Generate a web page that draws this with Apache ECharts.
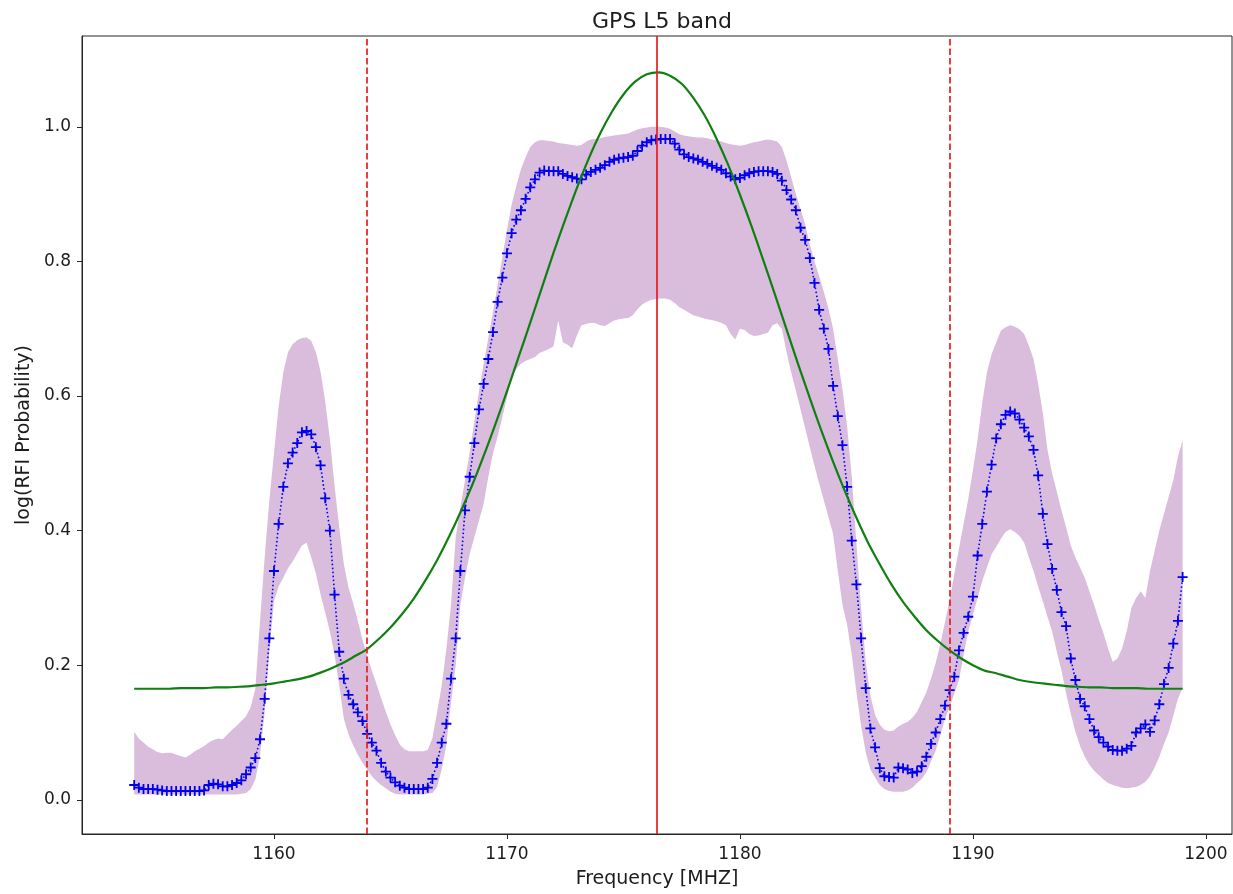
<!DOCTYPE html>
<html>
<head>
<meta charset="utf-8">
<title>GPS L5 band</title>
<script src="https://cdn.jsdelivr.net/npm/echarts@6/dist/echarts.min.js"></script>
<style>
  html, body { margin: 0; padding: 0; background: #ffffff; }
  #chart { width: 1233px; height: 894px; }
</style>
</head>
<body>
<div id="chart"></div>
<script>
// Sampling grid of the RFI probability curve (MHz)
const freqStart = 1154.0;
const freqStep = 0.2;

// Mean log(RFI probability) per frequency bin
const meanProb = [
  0.022, 0.018, 0.016, 0.016, 0.016, 0.015, 0.014, 0.013, 0.013, 0.013,
  0.013, 0.013, 0.013, 0.013, 0.013, 0.014, 0.022, 0.024, 0.023, 0.020,
  0.020, 0.022, 0.025, 0.029, 0.038, 0.048, 0.062, 0.090, 0.150, 0.240,
  0.340, 0.410, 0.465, 0.500, 0.516, 0.530, 0.546, 0.548, 0.543, 0.524,
  0.497, 0.448, 0.400, 0.305, 0.220, 0.180, 0.156, 0.142, 0.130, 0.117,
  0.098, 0.085, 0.073, 0.055, 0.042, 0.033, 0.026, 0.021, 0.018, 0.016,
  0.016, 0.016, 0.016, 0.018, 0.031, 0.055, 0.085, 0.113, 0.180, 0.240,
  0.340, 0.430, 0.480, 0.530, 0.580, 0.618, 0.655, 0.695, 0.740, 0.776,
  0.812, 0.842, 0.862, 0.876, 0.893, 0.910, 0.922, 0.932, 0.935, 0.934,
  0.934, 0.934, 0.930, 0.927, 0.925, 0.923, 0.922, 0.929, 0.933, 0.936,
  0.939, 0.943, 0.948, 0.951, 0.953, 0.954, 0.955, 0.957, 0.964, 0.972,
  0.977, 0.980, 0.981, 0.982, 0.982, 0.982, 0.975, 0.966, 0.959, 0.955,
  0.953, 0.951, 0.948, 0.945, 0.942, 0.939, 0.936, 0.931, 0.926, 0.922,
  0.924, 0.928, 0.931, 0.933, 0.934, 0.934, 0.934, 0.933, 0.930, 0.920,
  0.906, 0.892, 0.876, 0.850, 0.832, 0.805, 0.768, 0.728, 0.700, 0.670,
  0.615, 0.570, 0.527, 0.465, 0.385, 0.320, 0.240, 0.166, 0.106, 0.078,
  0.047, 0.035, 0.034, 0.033, 0.048, 0.047, 0.045, 0.040, 0.042, 0.050,
  0.064, 0.083, 0.100, 0.120, 0.140, 0.163, 0.183, 0.222, 0.248, 0.272,
  0.302, 0.363, 0.410, 0.458, 0.498, 0.537, 0.558, 0.572, 0.577, 0.574,
  0.565, 0.553, 0.540, 0.520, 0.482, 0.425, 0.380, 0.343, 0.312, 0.279,
  0.258, 0.210, 0.178, 0.150, 0.139, 0.120, 0.103, 0.093, 0.085, 0.079,
  0.074, 0.073, 0.073, 0.076, 0.080, 0.100, 0.106, 0.112, 0.101, 0.118,
  0.142, 0.172, 0.196, 0.232, 0.266, 0.331
];

// Upper edge of the spread band
const upperProb = [
  0.101, 0.091, 0.085, 0.079, 0.075, 0.071, 0.069, 0.070, 0.070, 0.067,
  0.065, 0.063, 0.067, 0.072, 0.076, 0.080, 0.085, 0.089, 0.091, 0.090,
  0.097, 0.104, 0.110, 0.117, 0.124, 0.138, 0.165, 0.265, 0.360, 0.445,
  0.515, 0.585, 0.635, 0.665, 0.677, 0.683, 0.686, 0.687, 0.682, 0.665,
  0.636, 0.592, 0.536, 0.467, 0.405, 0.350, 0.315, 0.292, 0.266, 0.238,
  0.213, 0.192, 0.172, 0.151, 0.131, 0.112, 0.096, 0.082, 0.075, 0.072,
  0.072, 0.072, 0.072, 0.074, 0.092, 0.130, 0.170, 0.225, 0.290, 0.390,
  0.435, 0.475, 0.516, 0.562, 0.607, 0.648, 0.686, 0.725, 0.765, 0.805,
  0.847, 0.884, 0.912, 0.937, 0.955, 0.970, 0.977, 0.980, 0.980, 0.979,
  0.978, 0.976, 0.975, 0.974, 0.973, 0.972, 0.973, 0.978, 0.981, 0.982,
  0.983, 0.985, 0.986, 0.987, 0.988, 0.989, 0.990, 0.993, 0.996, 0.998,
  0.999, 1.000, 1.000, 1.000, 0.999, 0.997, 0.993, 0.989, 0.987, 0.986,
  0.985, 0.984, 0.984, 0.983, 0.981, 0.980, 0.978, 0.976, 0.974, 0.973,
  0.972, 0.973, 0.975, 0.977, 0.978, 0.980, 0.981, 0.980, 0.978, 0.970,
  0.950, 0.925, 0.900, 0.878, 0.855, 0.825, 0.800, 0.778, 0.755, 0.730,
  0.700, 0.655, 0.610, 0.555, 0.480, 0.380, 0.285, 0.205, 0.155, 0.126,
  0.112, 0.104, 0.102, 0.103, 0.109, 0.113, 0.116, 0.122, 0.131, 0.145,
  0.160, 0.180, 0.203, 0.232, 0.264, 0.297, 0.335, 0.373, 0.410, 0.447,
  0.490, 0.535, 0.590, 0.635, 0.662, 0.680, 0.697, 0.702, 0.705, 0.703,
  0.699, 0.692, 0.675, 0.655, 0.618, 0.575, 0.520, 0.485, 0.458, 0.430,
  0.405, 0.378, 0.360, 0.345, 0.330, 0.310, 0.290, 0.268, 0.248, 0.225,
  0.205, 0.210, 0.225, 0.250, 0.285, 0.300, 0.310, 0.300, 0.340, 0.370,
  0.400, 0.425, 0.450, 0.475, 0.510, 0.534
];

// Lower edge of the spread band
const lowerProb = [
  0.008, 0.008, 0.008, 0.008, 0.008, 0.008, 0.008, 0.008, 0.008, 0.008,
  0.008, 0.008, 0.008, 0.008, 0.008, 0.008, 0.008, 0.008, 0.008, 0.008,
  0.008, 0.008, 0.008, 0.009, 0.010, 0.016, 0.030, 0.065, 0.130, 0.220,
  0.295, 0.317, 0.330, 0.344, 0.354, 0.366, 0.378, 0.382, 0.360, 0.336,
  0.305, 0.278, 0.250, 0.215, 0.170, 0.120, 0.097, 0.081, 0.067, 0.055,
  0.045, 0.035, 0.028, 0.022, 0.017, 0.012, 0.009, 0.008, 0.008, 0.008,
  0.008, 0.008, 0.008, 0.009, 0.010, 0.019, 0.045, 0.082, 0.145, 0.200,
  0.290, 0.330, 0.365, 0.390, 0.415, 0.440, 0.480, 0.515, 0.540, 0.568,
  0.598, 0.628, 0.640, 0.648, 0.652, 0.655, 0.658, 0.664, 0.667, 0.670,
  0.674, 0.712, 0.680, 0.676, 0.671, 0.690, 0.705, 0.707, 0.709, 0.708,
  0.705, 0.704, 0.708, 0.712, 0.714, 0.715, 0.716, 0.720, 0.729, 0.736,
  0.740, 0.743, 0.744, 0.745, 0.745, 0.743, 0.738, 0.732, 0.728, 0.724,
  0.720, 0.718, 0.716, 0.714, 0.713, 0.711, 0.709, 0.705, 0.692, 0.684,
  0.700, 0.698, 0.692, 0.689, 0.690, 0.692, 0.694, 0.705, 0.708, 0.700,
  0.665, 0.635, 0.608, 0.580, 0.552, 0.524, 0.496, 0.470, 0.445, 0.420,
  0.395, 0.340, 0.290, 0.260, 0.215, 0.160, 0.110, 0.070, 0.045, 0.033,
  0.022, 0.016, 0.013, 0.012, 0.012, 0.012, 0.014, 0.018, 0.025, 0.031,
  0.041, 0.057, 0.073, 0.096, 0.120, 0.137, 0.158, 0.178, 0.215, 0.250,
  0.275, 0.300, 0.325, 0.345, 0.365, 0.376, 0.388, 0.398, 0.402, 0.398,
  0.392, 0.382, 0.360, 0.340, 0.317, 0.295, 0.272, 0.250, 0.220, 0.192,
  0.158, 0.128, 0.101, 0.080, 0.064, 0.052, 0.043, 0.037, 0.030, 0.025,
  0.022, 0.020, 0.018, 0.017, 0.018, 0.019, 0.022, 0.027, 0.035, 0.048,
  0.064, 0.083, 0.100, 0.125, 0.150, 0.166
];

// Fitted profile, sampled every 0.5 MHz
const fitFreqStart = 1154.0;
const fitFreqStep = 0.5;
const fitProb = [
  0.165, 0.165, 0.165, 0.165, 0.166, 0.166, 0.166, 0.167, 0.167, 0.168,
  0.169, 0.171, 0.173, 0.176, 0.179, 0.183, 0.189, 0.196, 0.204, 0.214,
  0.224, 0.239, 0.256, 0.276, 0.299, 0.326, 0.356, 0.390, 0.427, 0.467,
  0.511, 0.558, 0.607, 0.658, 0.709, 0.761, 0.813, 0.862, 0.909, 0.952,
  0.990, 1.022, 1.048, 1.067, 1.078, 1.081, 1.076, 1.064, 1.043, 1.016,
  0.982, 0.943, 0.899, 0.852, 0.802, 0.751, 0.699, 0.647, 0.597, 0.548,
  0.502, 0.459, 0.419, 0.382, 0.350, 0.320, 0.294, 0.272, 0.252, 0.236,
  0.222, 0.210, 0.200, 0.192, 0.188, 0.183, 0.178, 0.175, 0.173, 0.171,
  0.169, 0.168, 0.167, 0.167, 0.166, 0.166, 0.166, 0.165, 0.165, 0.165,
  0.165
];

// Band markers (MHz)
const bandEdges = [1164.0, 1189.0];
const centerFreq = 1176.45;

// Axis ticks
const xTicks = [1160, 1170, 1180, 1190, 1200];
const yTicks = [0.0, 0.2, 0.4, 0.6, 0.8, 1.0];

const freqs = meanProb.map((_, i) => +(freqStart + i * freqStep).toFixed(2));
const fitFreqs = fitProb.map((_, i) => +(fitFreqStart + i * fitFreqStep).toFixed(2));

const meanData = freqs.map((f, i) => [f, meanProb[i]]);
const bandData = freqs.map((f, i) => [f, lowerProb[i], upperProb[i]]);
const fitData = fitFreqs.map((f, i) => [f, fitProb[i]]);

const FONT = 'DejaVu Sans';
const TEXT = '#1c1c1c';
const AXIS = '#262626';
const PLUS = 'path://M0,4.1H4.1V0H5.9V4.1H10V5.9H5.9V10H4.1V5.9H0Z';
const RED = 'rgba(232,28,28,0.85)';

const chart = echarts.init(document.getElementById('chart'), null, { renderer: 'canvas' });

chart.setOption({
  animation: false,
  backgroundColor: '#ffffff',
  title: {
    text: 'GPS L5 band',
    left: 657,
    top: 6,
    textAlign: 'center',
    textStyle: { fontFamily: FONT, fontSize: 22, fontWeight: 'normal', color: TEXT }
  },
  grid: {
    left: 82, top: 36, width: 1150, height: 800,
    show: true, borderColor: AXIS, borderWidth: 1, backgroundColor: 'transparent',
    containLabel: false
  },
  xAxis: {
    type: 'value',
    min: 1151.76,
    max: 1201.12,
    name: 'Frequency [MHZ]',
    nameLocation: 'middle',
    nameGap: 36,
    nameTextStyle: { fontFamily: FONT, fontSize: 19, color: TEXT },
    axisLine: { show: true, onZero: false, lineStyle: { color: AXIS, width: 1 } },
    axisTick: { show: true, customValues: xTicks, length: 5, lineStyle: { color: AXIS, width: 1 } },
    axisLabel: {
      customValues: xTicks, fontFamily: FONT, fontSize: 17, color: TEXT, margin: 12,
      formatter: v => String(Math.round(v))
    },
    splitLine: { show: false }
  },
  yAxis: {
    type: 'value',
    min: -0.0508,
    max: 1.1349,
    name: 'log(RFI Probability)',
    nameLocation: 'middle',
    nameRotate: 90,
    nameGap: 48,
    nameTextStyle: { fontFamily: FONT, fontSize: 19, color: TEXT },
    axisLine: { show: true, onZero: false, lineStyle: { color: AXIS, width: 1 } },
    axisTick: { show: true, customValues: yTicks, length: 5, lineStyle: { color: AXIS, width: 1 } },
    axisLabel: {
      customValues: yTicks, fontFamily: FONT, fontSize: 17, color: TEXT, margin: 11,
      formatter: v => Number(v).toFixed(1)
    },
    splitLine: { show: false }
  },
  series: [
    {
      // spread band between lower and upper edges
      type: 'custom',
      z: 1,
      silent: true,
      encode: { x: 0, y: [1, 2] },
      data: bandData,
      renderItem(params, api) {
        if (params.dataIndex !== 0) return null;
        const pts = [];
        for (let i = 0; i < bandData.length; i++) pts.push(api.coord([bandData[i][0], bandData[i][1]]));
        for (let i = bandData.length - 1; i >= 0; i--) pts.push(api.coord([bandData[i][0], bandData[i][2]]));
        return {
          type: 'polygon',
          shape: { points: pts },
          style: { fill: '#dabddd', stroke: null }
        };
      }
    },
    {
      // mean curve with plus markers
      type: 'line',
      z: 3,
      data: meanData,
      symbol: PLUS,
      symbolSize: 10,
      showSymbol: true,
      showAllSymbol: true,
      silent: true,
      itemStyle: { color: '#0000ee' },
      lineStyle: { color: '#0000ff', width: 1.6, type: [1.6, 2.4], cap: 'butt' },
      emphasis: { disabled: true }
    },
    {
      // fitted profile
      type: 'line',
      z: 4,
      data: fitData,
      showSymbol: false,
      smooth: 0.3,
      silent: true,
      lineStyle: { color: '#0f800f', width: 2.2 },
      emphasis: { disabled: true }
    },
    {
      // band edges and centre frequency
      type: 'line',
      z: 5,
      data: [],
      silent: true,
      markLine: {
        silent: true,
        symbol: ['none', 'none'],
        label: { show: false },
        animation: false,
        data: [
          { xAxis: bandEdges[0], lineStyle: { color: RED, width: 2, type: [6.5, 3] } },
          { xAxis: centerFreq, lineStyle: { color: RED, width: 2, type: 'solid' } },
          { xAxis: bandEdges[1], lineStyle: { color: RED, width: 2, type: [6.5, 3] } }
        ]
      }
    }
  ]
});
</script>
</body>
</html>
